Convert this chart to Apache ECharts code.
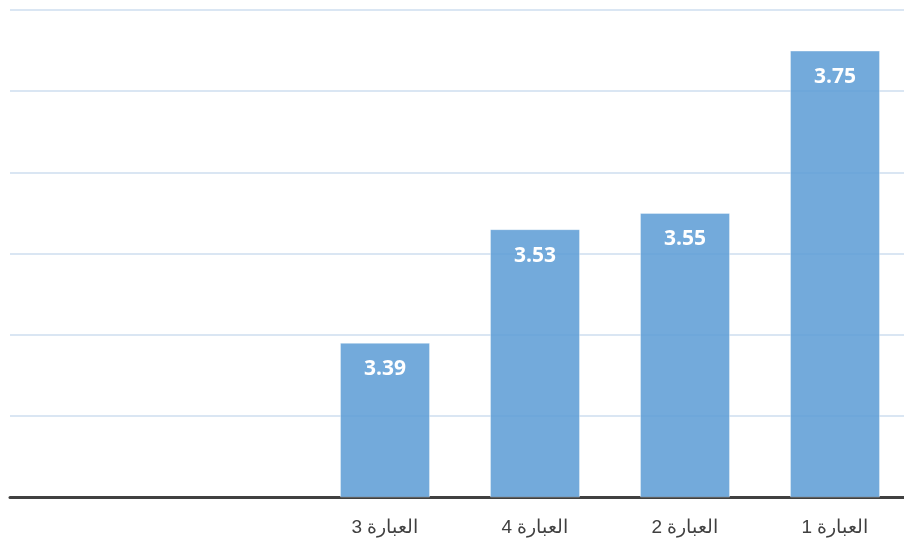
<!DOCTYPE html>
<html>
<head>
<meta charset="utf-8">
<script src="https://cdn.jsdelivr.net/npm/echarts@6/dist/echarts.min.js"></script>
<style>
  html, body { margin: 0; padding: 0; background: #fff; overflow: hidden; }
  /* the plot runs slightly past the right edge of the picture */
  #chart { width: 912px; height: 543px; }
</style>
</head>
<body>
<div id="chart"></div>
<script>
// categories (two empty slots on the left, as in the picture)
const categories = ['', '', 'العبارة 3', 'العبارة 4', 'العبارة 2', 'العبارة 1']
const values = ['-', '-', 3.39, 3.53, 3.55, 3.75]

const chart = echarts.init(document.getElementById('chart'))

chart.setOption({
  animation: false,
  grid: { left: 10, top: 10, right: 2, bottom: 46, containLabel: false },
  xAxis: {
    type: 'category',
    data: categories,
    axisTick: { show: false },
    axisLine: { lineStyle: { color: '#404040', width: 3 } },
    axisLabel: {
      color: '#404040',
      fontSize: 19,
      fontFamily: 'Liberation Sans, Arial, sans-serif',
      margin: 21
    }
  },
  yAxis: {
    type: 'value',
    min: 3.2,
    max: 3.8,
    interval: 0.1,
    axisLabel: { show: false },
    axisLine: { show: false },
    axisTick: { show: false },
    splitLine: { lineStyle: { color: '#dae6f3', width: 2 } }
  },
  series: [{
    type: 'bar',
    data: values,
    barWidth: 90,
    itemStyle: {
      color: 'rgba(91, 155, 213, 0.85)',
      borderColor: 'rgba(255,255,255,0.35)',
      borderWidth: 1
    },
    label: {
      show: true,
      position: 'insideTop',
      distance: 16,
      color: '#fff',
      fontWeight: 'bold',
      fontSize: 21,
      fontFamily: 'Open Sans, sans-serif',
      formatter: p => p.value.toFixed(2)
    }
  }]
})
</script>
</body>
</html>
